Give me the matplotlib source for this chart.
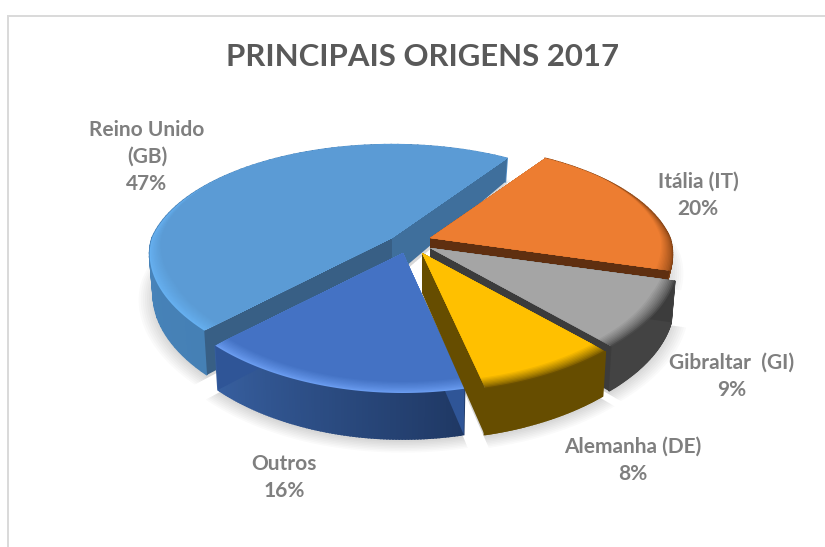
import numpy as np
import matplotlib
matplotlib.use("Agg")
import matplotlib.pyplot as plt
from matplotlib.colors import to_rgb
from matplotlib.patches import Polygon

# ----------------- DATA -----------------
title = "PRINCIPAIS ORIGENS 2017"
categories = ["Itália (IT)", "Gibraltar  (GI)", "Alemanha (DE)", "Outros", "Reino Unido\n(GB)"]
values = [20, 9, 8, 16, 47]

# ----------------- LAYOUT (pixels) -----------------
apex = [(430, 238), (430, 248), (422, 253), (403, 253), (392, 238)]
label_pos = [(698, 182), (732, 363), (633, 447), (284, 464), (147, 130)]
draw_order = [4, 0, 1, 3, 2]
depth_scale = [0.35, 1, 1, 1, 1]    # Italia's wall sits behind Gibraltar
x_scale = [1, 1.02, 1.03, 1, 1]

top_col = ["#ed7d31", "#a5a5a5", "#ffc000", "#4472c4", "#5b9bd5"]
rim_col = ["#9c4f1a", "#4a4a4a", "#6b5000", "#6a9cf0", "#66b0f0"]
wall_a = ["#a5561e", "#434343", "#664d00", "#1f3864", "#4580b5"]   # first angle
wall_b = ["#7d3f13", "#434343", "#664d00", "#375f9f", "#508dc6"]   # last angle
face_a = ["#5f2f10", "#3c3c3c", "#664d00", "#2f5597", "#385f85"]
face_b = ["#5f2f10", "#3c3c3c", "#664d00", "#2f5597", "#3f6f9c"]

start_angle = 56
rx, ry = 240, 112
persp_y = 0.2


def project(theta, r=1.0):
    x = r * np.cos(np.radians(theta))
    y = r * np.sin(np.radians(theta))
    persp_x = np.where(y > 0, 0.2, 0.14)
    return rx * x / (1 + persp_x * y), -ry * y / (1 + persp_y * y), y


def depth(y):
    return np.interp(y, [-1, 0, 0.85], [46, 40, 23])


def mix(c1, c2, t):
    c1, c2 = np.array(to_rgb(c1)), np.array(to_rgb(c2))
    return tuple(c1 + (c2 - c1) * t)


fig = plt.figure(figsize=(8.25, 5.47), dpi=100)
ax = fig.add_axes([0, 0, 1, 1])
ax.set_xlim(0, 825)
ax.set_ylim(547, 0)
ax.axis("off")

# chart frame
ax.plot([8, 8, 825], [547, 15.5, 15.5], color="#d9d9d9", lw=1.4, solid_joinstyle="miter", zorder=1)

# angles go clockwise from the start
ends = start_angle - np.cumsum(values) * 3.6
starts = np.r_[start_angle, ends[:-1]]


def bottom_arc(i, r=1.0):
    th = np.linspace(starts[i], ends[i], 90)
    dx, dy, y = project(th, r)
    return apex[i][0] + dx * x_scale[i] * 0.985, apex[i][1] + dy + depth(y) * depth_scale[i]


# soft shadow under the pie
for i in draw_order:
    for s in np.linspace(1.06, 1.0, 8):
        bx, by = bottom_arc(i, s)
        pts = np.c_[np.r_[apex[i][0], bx], np.r_[apex[i][1] + 44 * depth_scale[i], by + 3]]
        ax.add_patch(Polygon(pts, closed=True, fc="#000000", ec="none", alpha=0.018, zorder=2))

z = 3
for i in draw_order:
    ax0, ay0 = apex[i]
    th = np.linspace(starts[i], ends[i], 90)
    dx, dy, y = project(th)
    tx, ty = ax0 + dx * x_scale[i], ay0 + dy
    bx, by = bottom_arc(i)

    # outer wall, one quad per step so the shade can change along it
    for j in range(len(th) - 1):
        col = mix(wall_a[i], wall_b[i], j / (len(th) - 2))
        quad = [(tx[j], ty[j]), (tx[j + 1], ty[j + 1]), (bx[j + 1], by[j + 1]), (bx[j], by[j])]
        ax.add_patch(Polygon(quad, closed=True, fc=col, ec=col, lw=1.2, zorder=z))
        z += 0.001
    z += 1

    # the two cut faces
    d0 = depth(0) * depth_scale[i]
    ax.add_patch(Polygon([(ax0, ay0), (tx[0], ty[0]), (bx[0], by[0]), (ax0, ay0 + d0)],
                         closed=True, fc=face_a[i], ec="none", zorder=z))
    z += 1
    ax.add_patch(Polygon([(ax0, ay0), (tx[-1], ty[-1]), (bx[-1], by[-1]), (ax0, ay0 + d0)],
                         closed=True, fc=face_b[i], ec="none", zorder=z))
    z += 1

    # top surface, rim first then smaller slices over it. the rim only shows on the near side
    radii = np.linspace(1.0, 0.935, 10)
    near = np.clip(0.6 - y, 0, 1)
    for k, r in enumerate(radii):
        t = k / (len(radii) - 1)
        col = mix(rim_col[i], top_col[i], t ** 0.8)
        rr = 1 - (1 - r) * near
        pdx, pdy, _ = project(th, rr)
        pts = np.c_[np.r_[ax0, ax0 + pdx * x_scale[i]], np.r_[ay0, ay0 + pdy]]
        ax.add_patch(Polygon(pts, closed=True, fc=col, ec="none", zorder=z))
        z += 1

ax.text(423, 57, title, ha="center", va="center", fontsize=22.4, fontweight="bold",
        family="Lato", color="#595959", zorder=z)

for cat, val, (lx, ly) in zip(categories, values, label_pos):
    lines = cat.split("\n") + [f"{val}%"]
    for n, line in enumerate(lines):
        ax.text(lx, ly + n * 27, line, ha="center", va="center", fontsize=15, fontweight="bold",
                family="Lato", color="#7f7f7f", zorder=z)

fig.savefig("out.png", dpi=100)
